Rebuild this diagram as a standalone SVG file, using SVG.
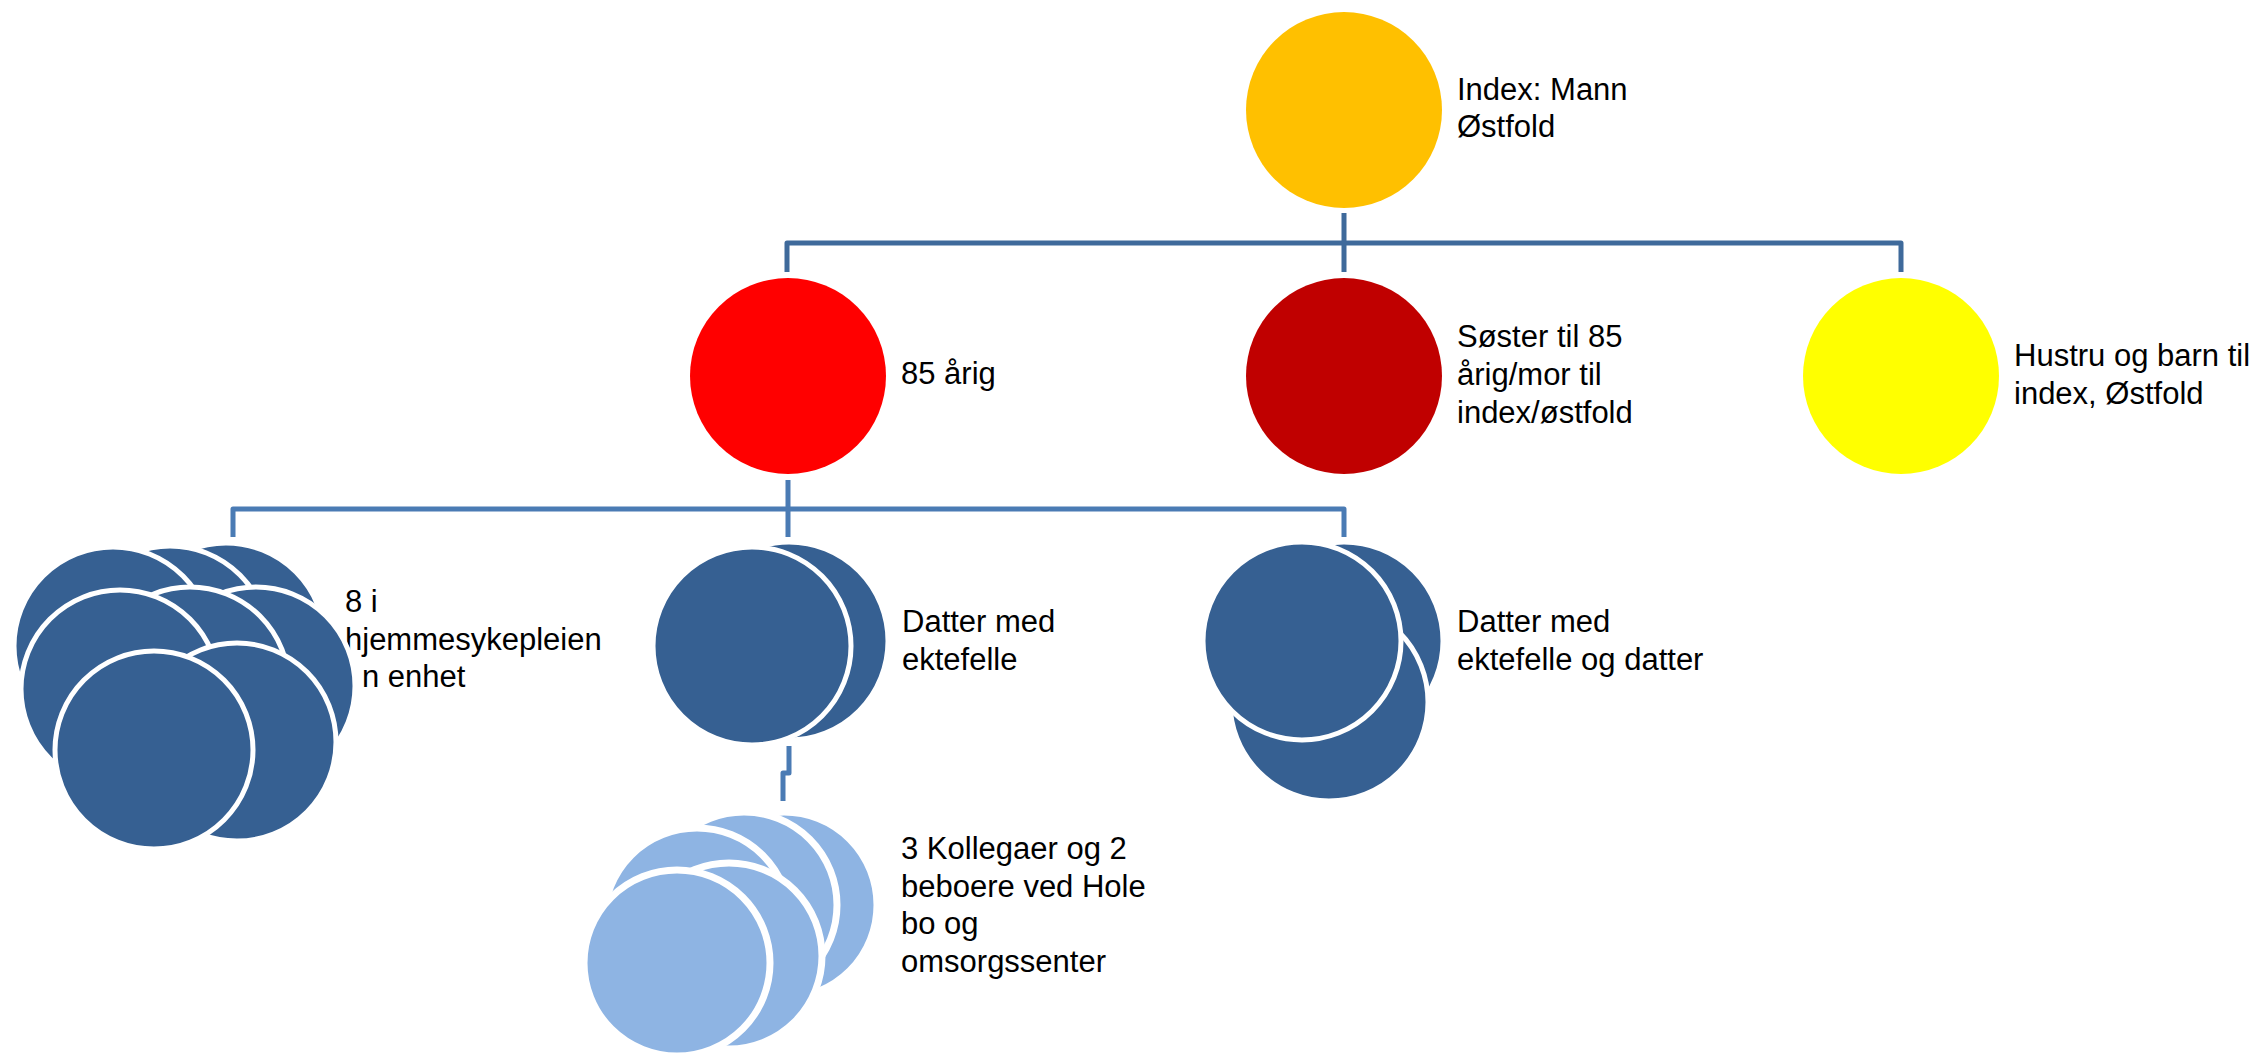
<svg xmlns="http://www.w3.org/2000/svg" width="2261" height="1053" viewBox="0 0 2261 1053">
<style>
.t{font-family:"Liberation Sans",Arial,sans-serif;font-size:31px;fill:#000}
.c1{stroke:#3F6A9B;stroke-width:5;fill:none;stroke-linejoin:round}
.c2{stroke:#4A7BB4;stroke-width:5;fill:none;stroke-linejoin:round}
.db{fill:#366092;stroke:#fff;stroke-width:5}
.lb{fill:#8EB4E3;stroke:#fff;stroke-width:7}
</style>
<rect width="2261" height="1053" fill="#fff"/>
<g id="connectors">
<path class="c1" d="M1344,213 V243 M787,272 V243 H1901 V272 M1344,243 V272"/>
<path class="c2" d="M788,480 V537 M233,537 V509 H1344 V537"/>
<path class="c2" d="M789,746 V773 H783 V801"/>
</g>
<g id="index">
<circle cx="1344" cy="110" r="98" fill="#FFC000"/>
<text class="t" x="1457" y="100">Index: Mann</text>
<text class="t" x="1457" y="137">Østfold</text>
</g>
<g id="n85">
<circle cx="788" cy="376" r="98" fill="#FF0000"/>
<text class="t" x="901" y="384">85 årig</text>
</g>
<g id="soster">
<circle cx="1344" cy="376" r="98" fill="#C00000"/>
<text class="t" x="1457" y="347">Søster til 85</text>
<text class="t" x="1457" y="385">årig/mor til</text>
<text class="t" x="1457" y="423">index/østfold</text>
</g>
<g id="hustru">
<circle cx="1901" cy="376" r="98" fill="#FFFF00"/>
<text class="t" x="2014" y="366">Hustru og barn til</text>
<text class="t" x="2014" y="404">index, Østfold</text>
</g>
<g id="hjemmesykepleien">
<text class="t" x="345" y="612">8 i</text>
<text class="t" x="345" y="650">hjemmesykepleien</text>
<text class="t" x="362" y="687">n enhet</text>
<circle class="db" cx="226" cy="642" r="99"/>
<circle class="db" cx="170" cy="645" r="99"/>
<circle class="db" cx="113" cy="646" r="99"/>
<circle class="db" cx="256" cy="686" r="99"/>
<circle class="db" cx="190" cy="686" r="99"/>
<circle class="db" cx="120" cy="689" r="99"/>
<circle class="db" cx="237" cy="742" r="99"/>
<circle class="db" cx="154" cy="750" r="99"/>
</g>
<g id="datter1">
<circle class="db" cx="789" cy="641" r="99"/>
<circle class="db" cx="752" cy="646" r="99"/>
<text class="t" x="902" y="632">Datter med</text>
<text class="t" x="902" y="670">ektefelle</text>
</g>
<g id="datter2">
<circle class="db" cx="1344" cy="641" r="99"/>
<circle class="db" cx="1329" cy="702" r="99"/>
<circle class="db" cx="1302" cy="641" r="99"/>
<text class="t" x="1457" y="632">Datter med</text>
<text class="t" x="1457" y="670">ektefelle og datter</text>
</g>
<g id="kollegaer">
<circle class="lb" cx="784" cy="905" r="93"/>
<circle class="lb" cx="744" cy="905" r="93"/>
<circle class="lb" cx="697" cy="921" r="93"/>
<circle class="lb" cx="729" cy="956" r="93"/>
<circle class="lb" cx="677" cy="963" r="93"/>
<text class="t" x="901" y="859">3 Kollegaer og 2</text>
<text class="t" x="901" y="897">beboere ved Hole</text>
<text class="t" x="901" y="934">bo og</text>
<text class="t" x="901" y="972">omsorgssenter</text>
</g>
</svg>
